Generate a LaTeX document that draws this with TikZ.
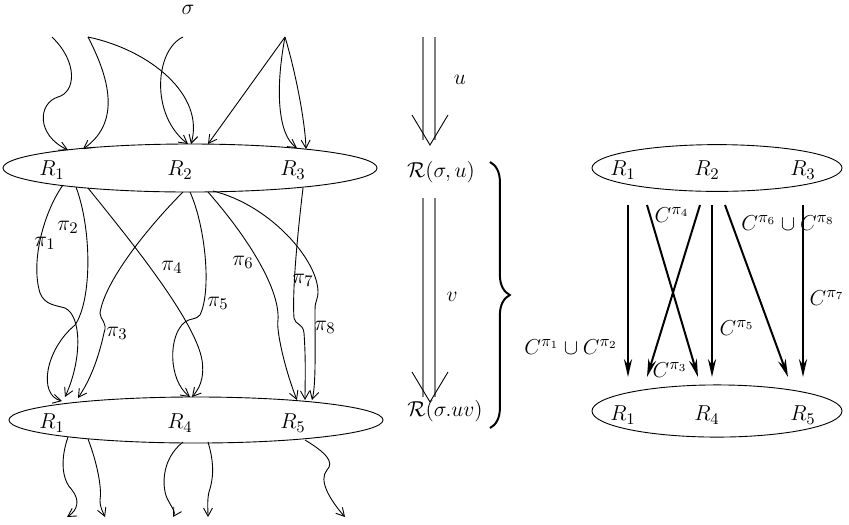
\documentclass[tikz,border=0pt]{standalone}
\usepackage{amsmath, amssymb}
\usepackage{tikz}
\usetikzlibrary{arrows.meta, positioning, calc, decorations.pathreplacing, shapes}

\begin{document}
\begin{tikzpicture}[x=0.556pt, y=-0.556pt, font=\fontsize{12.5pt}{15pt}\selectfont,
    run/.style={-{Straight Barb[length=4.5pt, width=5pt]}, line width=0.5pt},
    flow/.style={-{Stealth[length=10pt, width=4.5pt]}, line width=1.1pt},
    region/.style={draw, ellipse, inner sep=0pt, line width=0.5pt}]
    \useasboundingbox (0,0) rectangle (849,524);

    % Left: the runs through the two region sets
    \node[region, minimum width=208pt, minimum height=26.7pt] (top) at (190,168) {};
    \node[region, minimum width=208pt, minimum height=25.6pt] (bot) at (196,420) {};
    \node (r1t) at (52,170) {$R_1$};
    \node (r2t) at (180,170) {$R_2$};
    \node (r3t) at (293,170) {$R_3$};
    \node (r1b) at (52,423) {$R_1$};
    \node (r4b) at (180,423) {$R_4$};
    \node (r5b) at (293,423) {$R_5$};
    \node (sigma) at (188,10) {$\sigma$};

    % sources above and entry points
    \coordinate (s1) at (52,37);
    \coordinate (s2) at (88,37);
    \coordinate (s3) at (183,37);
    \coordinate (s4) at (285,37);
    \draw[run] (s1) .. controls (78,62) and (76,92) .. (58,97) .. controls (38,103) and (36,135) .. (68,150);
    \draw[run] (s2) .. controls (105,70) and (125,120) .. (83,149);
    \draw[run] (s2) .. controls (150,50) and (205,95) .. (191,144);
    \draw[run] (s3) .. controls (155,50) and (150,115) .. (188,144);
    \draw[run] (s4) -- (208,144);
    \draw[run] (s4) .. controls (275,90) and (278,135) .. (297,148);
    \draw[run] (s4) .. controls (295,70) and (305,120) .. (306,149);

    % paths pi_1 ... pi_8
    \draw[run] (63,185) .. controls (45,210) and (30,260) .. (40,293) .. controls (45,305) and (55,305) .. (65,308) .. controls (82,316) and (82,360) .. (65,397);
    \draw[run] (76,187) .. controls (92,230) and (92,300) .. (75,325) .. controls (45,350) and (38,395) .. (62,401);
    \draw[run] (183,192) .. controls (150,225) and (105,280) .. (100,313) .. controls (100,320) and (108,322) .. (104,333) .. controls (98,360) and (90,380) .. (78,398);
    \draw[run] (88,188) .. controls (130,240) and (195,320) .. (202,360) .. controls (205,380) and (198,390) .. (192,397);
    \draw[run] (190,192) .. controls (205,225) and (212,290) .. (200,315) .. controls (196,320) and (190,318) .. (185,322) .. controls (168,335) and (168,380) .. (190,397);
    \draw[run] (208,192) .. controls (250,240) and (280,290) .. (278,320) .. controls (276,330) and (285,370) .. (297,400);
    \draw[run] (303,188) .. controls (298,230) and (292,290) .. (294,318) .. controls (295,325) and (303,323) .. (304,333) .. controls (306,360) and (305,385) .. (305,400);
    \draw[run] (213,191) .. controls (270,205) and (318,260) .. (318,292) .. controls (318,300) and (315,300) .. (315,310) .. controls (315,350) and (316,385) .. (312,400);
    \node (p1) at (45,243) {$\pi_1$};
    \node (p2) at (68,227) {$\pi_2$};
    \node (p3) at (117,333) {$\pi_3$};
    \node (p4) at (172,267) {$\pi_4$};
    \node (p5) at (218,303) {$\pi_5$};
    \node (p6) at (243,262) {$\pi_6$};
    \node (p7) at (303,280) {$\pi_7$};
    \node (p8) at (325,327) {$\pi_8$};

    % exits below
    \draw[run] (68,437) .. controls (60,460) and (62,480) .. (72,490) .. controls (80,500) and (78,510) .. (67,517);
    \draw[run] (88,439) .. controls (98,465) and (102,490) .. (100,500) .. controls (100,508) and (103,512) .. (105,517);
    \draw[run] (183,442) .. controls (160,460) and (162,490) .. (168,500) .. controls (172,508) and (176,512) .. (173,517);
    \draw[run] (208,442) .. controls (215,465) and (213,480) .. (209,492) .. controls (207,500) and (208,510) .. (208,517);
    \draw[run] (305,440) .. controls (325,452) and (335,462) .. (327,470) .. controls (318,480) and (330,500) .. (345,517);

    % Middle: the two steps u and v
    \draw[gray, line width=1pt] (423,37) -- (423,140) (435,37) -- (435,140);
    \draw[line width=0.5pt] (412,115) -- (430,145) -- (448,115);
    \node (u) at (460,80) {$u$};
    \node (ru) at (441,172) {$\mathcal{R}(\sigma,u)$};
    \draw[gray, line width=1pt] (423,198) -- (423,397) (435,198) -- (435,397);
    \draw[line width=0.5pt] (412,372) -- (430,402) -- (448,372);
    \node (v) at (452,297) {$v$};
    \node (ruv) at (445,411) {$\mathcal{R}(\sigma.uv)$};
    \draw[line width=1.1pt, decorate, decoration={brace, amplitude=11pt}] (490,162) -- (490,428);

    % Right: summary with C sets
    \node[region, minimum width=139pt, minimum height=26pt] (topr) at (717,168) {};
    \node[region, minimum width=139pt, minimum height=29pt] (botr) at (717,411) {};
    \node (q1) at (623,170) {$R_1$};
    \node (q2) at (707,170) {$R_2$};
    \node (q3) at (803,170) {$R_3$};
    \node (q4) at (623,415) {$R_1$};
    \node (q5) at (707,415) {$R_4$};
    \node (q6) at (803,415) {$R_5$};

    \draw[flow] (628,205) -- (628,377);
    \draw[flow] (647,205) -- (698,377);
    \draw[flow] (700,205) -- (647,377);
    \draw[flow] (712,205) -- (712,377);
    \draw[flow] (725,205) -- (788,377);
    \draw[flow] (803,205) -- (803,377);
    \node (c12) at (571,347) {$C^{\pi_1}\cup C^{\pi_2}$};
    \node (c4) at (672,215) {$C^{\pi_4}$};
    \node (c3) at (670,370) {$C^{\pi_3}$};
    \node (c5) at (737,328) {$C^{\pi_5}$};
    \node (c68) at (788,223) {$C^{\pi_6}\cup C^{\pi_8}$};
    \node (c7) at (827,298) {$C^{\pi_7}$};
\end{tikzpicture}
\end{document}
